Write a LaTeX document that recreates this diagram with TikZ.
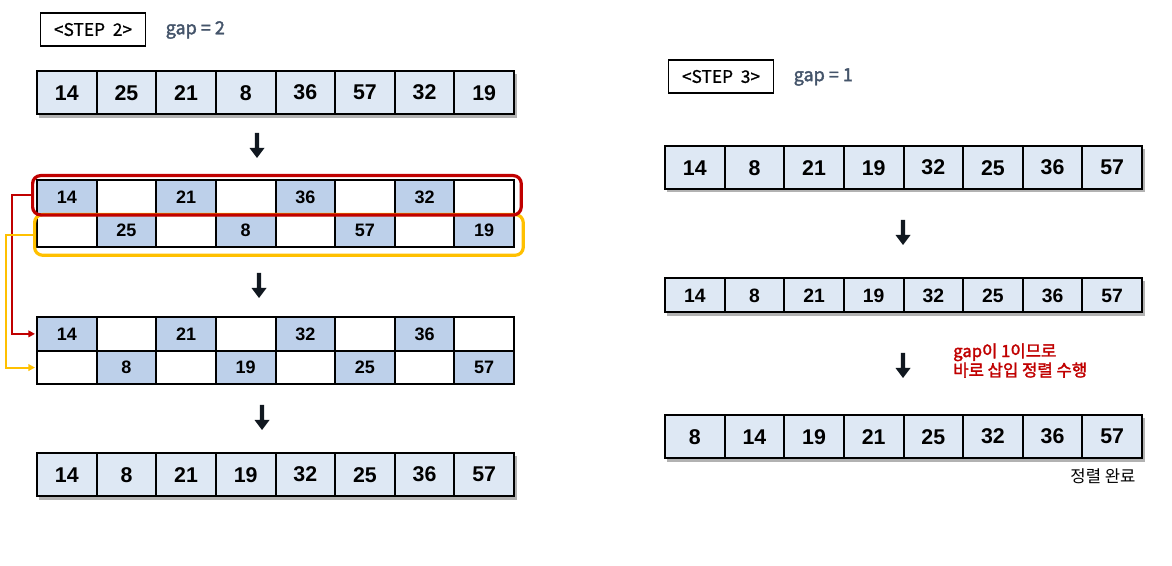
\documentclass[tikz,border=0pt]{standalone}
\usepackage{fontspec}
\setmainfont{Liberation Sans}
\newfontfamily\kr[AutoFakeBold=2]{Noto Sans CJK KR}
\newfontfamily\krm[AutoFakeBold=0.9]{Noto Sans CJK KR}
\usetikzlibrary{arrows.meta}
\definecolor{lb}{HTML}{DEE8F4}
\definecolor{mb}{HTML}{BDD0EA}
\definecolor{gapc}{HTML}{44546A}
\definecolor{rd}{HTML}{C00000}
\definecolor{og}{HTML}{FFC000}
\definecolor{arr}{HTML}{111820}
\tikzset{
  cell/.style={draw=black, line width=1.5pt, anchor=north west, minimum width=44.72pt, inner sep=0pt, outer sep=0pt},
  fullcell/.style={cell, fill=lb, minimum height=32.5pt, font=\bfseries\fontsize{16}{18}\selectfont},
  halfcell/.style={cell, minimum height=25.3pt, font=\bfseries\fontsize{13.5}{15}\selectfont},
  dk/.style={fill=mb}, wt/.style={fill=white},
  stepbox/.style={draw=black, line width=1.2pt, minimum width=79pt, minimum height=24.5pt, inner sep=0pt, font=\krm\bfseries\fontsize{13}{15}\selectfont},
  gaplabel/.style={anchor=west, text=gapc, font=\kr\bfseries\fontsize{13.5}{15}\selectfont},
  groupbox/.style={line width=2.4pt, rounded corners=6pt, anchor=north west, inner sep=0pt, minimum width=366.5pt},
  link/.style={line width=1.5pt, -{Triangle[length=5pt,width=5pt]}, rounded corners=0pt},
  shadow/.style={fill=black, opacity=0.3}
}
\newcommand\downarr[2]{%
  \fill[arr] (#1-2.2,#2) -- (#1+2.2,#2) -- (#1+2.2,#2+15) -- (#1+7.5,#2+15) -- (#1,#2+25) -- (#1-7.5,#2+15) -- (#1-2.2,#2+15) -- cycle;}
\begin{document}
\begin{tikzpicture}[x=0.75pt,y=-0.75pt]
\useasboundingbox (0,0) rectangle (1172,566);

% ---------- STEP 2 ----------
\node[stepbox] (s2) at (93,29.5) {<STEP\ \ 2>};
\node[gaplabel] (g2) at (161,30) {gap = 2};

\fill[shadow] (39,74) rectangle (517,118);
\foreach \v [count=\i] in {14,25,21,8,36,57,32,19}
  \node[fullcell] (a\i) at ({37+(\i-1)*59.625},71) {\v};

\downarr{257}{133}

\foreach \v/\f [count=\i] in {14/dk,{}/wt,21/dk,{}/wt,36/dk,{}/wt,32/dk,{}/wt}
  \node[halfcell,\f] (b\i) at ({37+(\i-1)*59.625},180) {\v};
\foreach \v/\f [count=\i] in {{}/wt,25/dk,{}/wt,8/dk,{}/wt,57/dk,{}/wt,19/dk}
  \node[halfcell,\f] (c\i) at ({37+(\i-1)*59.625},213.7) {\v};

\node[groupbox, draw=og, minimum height=30.5pt] (ob) at (33,213) {};
\node[groupbox, draw=rd, minimum height=29.5pt] (rb) at (31,174) {};

\downarr{259}{273}

\foreach \v/\f [count=\i] in {14/dk,{}/wt,21/dk,{}/wt,32/dk,{}/wt,36/dk,{}/wt}
  \node[halfcell,\f] (d\i) at ({37+(\i-1)*59.625},317) {\v};
\foreach \v/\f [count=\i] in {{}/wt,8/dk,{}/wt,19/dk,{}/wt,25/dk,{}/wt,57/dk}
  \node[halfcell,\f] (e\i) at ({37+(\i-1)*59.625},350.7) {\v};

\draw[link, draw=rd] (rb.west) -- ++(-19,0) |- ([xshift=-1.5pt]d1.west);
\draw[link, draw=og] (ob.west) -- ++(-27,0) |- ([xshift=-1.5pt]e1.west);

\downarr{262}{405}

\fill[shadow] (39,456) rectangle (517,500);
\foreach \v [count=\i] in {14,8,21,19,32,25,36,57}
  \node[fullcell] (f\i) at ({37+(\i-1)*59.625},453) {\v};

% ---------- STEP 3 ----------
\node[stepbox] (s3) at (721,76.5) {<STEP\ \ 3>};
\node[gaplabel] (g3) at (789,77) {gap = 1};

\fill[shadow] (667,149) rectangle (1145,192);
\foreach \v [count=\i] in {14,8,21,19,32,25,36,57}
  \node[fullcell] (p\i) at ({665+(\i-1)*59.625},146) {\v};

\downarr{903}{220}

\fill[shadow] (667,281) rectangle (1145,316);
\foreach \v [count=\i] in {14,8,21,19,32,25,36,57}
  \node[fullcell, minimum height=25.5pt, font=\bfseries\fontsize{14.5}{16}\selectfont] (q\i) at ({665+(\i-1)*59.625},278.5) {\v};

\downarr{903}{353}
\node[anchor=north west, align=left, text=rd, inner sep=0pt, font=\kr\bfseries\fontsize{12.5}{13}\selectfont] (note) at (953,343) {gap이 1이므로\\바로 삽입 정렬 수행};

\fill[shadow] (667,418) rectangle (1145,462);
\foreach \v [count=\i] in {8,14,19,21,25,32,36,57}
  \node[fullcell] (r\i) at ({665+(\i-1)*59.625},415) {\v};

\node[font=\kr\fontsize{12.5}{14}\selectfont, inner sep=0pt] (done) at (1103,476) {정렬 완료};
\end{tikzpicture}
\end{document}
